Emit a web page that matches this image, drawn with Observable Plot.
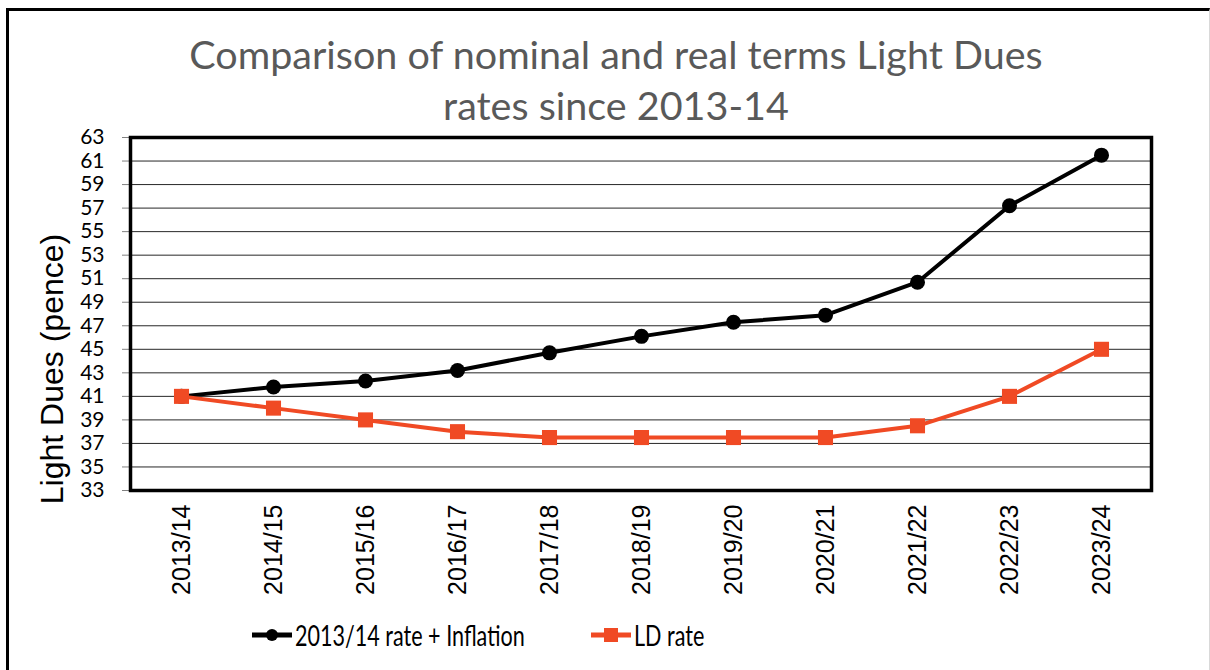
<!DOCTYPE html>
<html>
<head>
<meta charset="utf-8">
<script src="https://cdn.jsdelivr.net/npm/d3@7"></script>
<script src="https://cdn.jsdelivr.net/npm/@observablehq/plot@0.6"></script>
<style>
  html, body { margin: 0; padding: 0; background: #fff; }
  #wrap { position: relative; width: 1210px; height: 670px; overflow: hidden; background: #fff; }
  #border { position: absolute; left: 6px; top: 8px; width: 1200px; height: 700px;
            border-left: 3px solid #000; border-top: 3px solid #000; border-right: 1px solid #d9d9d9; }
  #title { position: absolute; left: 0; top: 28px; width: 1232px; text-align: center;
           font-family: Lato, "Open Sans", sans-serif; font-size: 39.5px; line-height: 51px; color: #595959; }
  #chart { position: absolute; left: 0; top: 125px; }
  #legend { position: absolute; top: 615px; left: 0; width: 1210px; height: 40px;
            font-family: Lato, sans-serif; font-size: 28px; color: #000; }
  .item { position: absolute; top: 0; height: 40px; display: flex; align-items: center; white-space: nowrap; }
  .item svg { margin-right: 3px; flex: none; }
  .item span { display: inline-block; transform: scaleX(0.77); transform-origin: left center; }
</style>
</head>
<body>
<div id="wrap">
  <div id="border"></div>
  <div id="title">Comparison of nominal and real terms Light Dues<br>rates since 2013-14</div>
  <div id="chart"></div>
  <div id="legend"></div>
</div>
<script>
const years = ["2013/14","2014/15","2015/16","2016/17","2017/18","2018/19","2019/20","2020/21","2021/22","2022/23","2023/24"];
const inflationRate = [41, 41.8, 42.3, 43.2, 44.7, 46.1, 47.3, 47.9, 50.7, 57.2, 61.5];
const ldRate = [41, 40, 39, 38, 37.5, 37.5, 37.5, 37.5, 38.5, 41, 45];
const yTicks = d3.range(33, 64, 2);
const seriesNames = ["2013/14 rate + Inflation", "LD rate"];
const colors = ["#000000", "#F04A24"];
const yLabel = "Light Dues (pence)";

const black = years.map((y, i) => ({year: y, value: inflationRate[i]}));
const orange = years.map((y, i) => ({year: y, value: ldRate[i]}));

const plot = Plot.plot({
  width: 1210,
  height: 485,
  marginTop: 12,
  marginBottom: 120,
  marginLeft: 130,
  marginRight: 59,
  x: {type: "point", domain: years, padding: 0.5, label: null},
  y: {domain: [33, 63], ticks: yTicks, label: null},
  style: {background: "transparent", overflow: "visible"},
  marks: [
    Plot.ruleY(yTicks.slice(1, -1), {stroke: "#000", strokeWidth: 1, strokeOpacity: 0.85}),
    Plot.axisY({ticks: yTicks, tickSize: 8, tickPadding: 18, stroke: "#808080",
                fontSize: 21, fontFamily: "Lato, sans-serif", fill: "#000", label: null}),
    Plot.axisX({tickRotate: -90, tickSize: 0, tickPadding: 14, fontSize: 25,
                fontFamily: "Liberation Sans, Arial, sans-serif", fill: "#000", label: null}),
    Plot.text([yLabel], {frameAnchor: "left", rotate: -90, dx: -78, dy: 55, fontSize: 32,
                fontFamily: "Liberation Sans, Arial, sans-serif", fill: "#000", textAnchor: "middle"}),
    Plot.frame({stroke: "#000", strokeWidth: 3.5}),
    Plot.line(black, {x: "year", y: "value", stroke: colors[0], strokeWidth: 4}),
    Plot.dot(black, {x: "year", y: "value", r: 7.5, fill: colors[0], stroke: "none"}),
    Plot.line(orange, {x: "year", y: "value", stroke: colors[1], strokeWidth: 4}),
    Plot.dot(orange, {x: "year", y: "value", r: 8.5, symbol: "square", fill: colors[1], stroke: "none"})
  ]
});
document.getElementById("chart").appendChild(plot);

// legend
const legend = document.getElementById("legend");
const lefts = [252, 591];
seriesNames.forEach((name, i) => {
  const item = document.createElement("div");
  item.className = "item";
  item.style.left = lefts[i] + "px";
  const marker = i === 0
    ? `<circle cx="20" cy="20" r="6" fill="${colors[i]}"/>`
    : `<rect x="13" y="13" width="14" height="14" fill="${colors[i]}"/>`;
  item.innerHTML = `<svg width="40" height="40"><line x1="0" x2="40" y1="20" y2="20" stroke="${colors[i]}" stroke-width="5"/>${marker}</svg><span>${name}</span>`;
  legend.appendChild(item);
});
</script>
</body>
</html>
